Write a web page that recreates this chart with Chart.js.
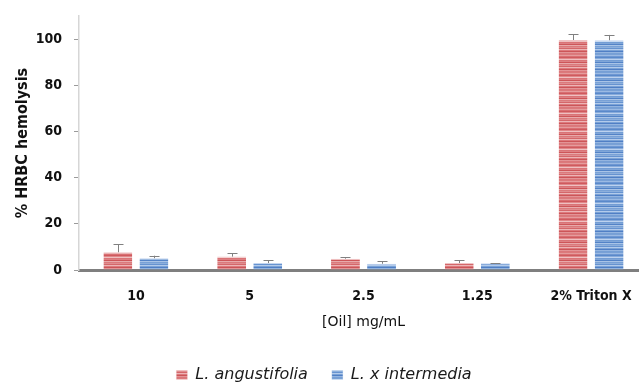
<!DOCTYPE html>
<html>
<head>
<meta charset="utf-8">
<script src="https://cdn.jsdelivr.net/npm/chart.js@4"></script>
<style>
  html, body { margin: 0; padding: 0; background: #fff; overflow: hidden; }
  #wrap { width: 648px; height: 393px; }
</style>
</head>
<body>
<div id="wrap"><canvas id="graf"></canvas></div>
<script>
const kategorier = ["10", "5", "2.5", "1.25", "2% Triton X"];
const angustifolia = [7.7, 5.8, 4.9, 3.0, 99.6];
const angustifoliaFeil = [3.4, 1.4, 0.7, 1.2, 2.6];
const intermedia = [5.1, 3.0, 2.7, 2.9, 99.5];
const intermediaFeil = [1.1, 1.2, 1.0, 0.1, 2.3];
const yTicks = [0, 20, 40, 60, 80, 100];

const fontNavn = "'DejaVu Sans Condensed', 'DejaVu Sans', sans-serif";
const vanligFont = "'DejaVu Sans', sans-serif";

// stripete fyll som i originalen
function lagStriper(farger) {
  const c = document.createElement("canvas");
  c.width = 4;
  c.height = farger.length;
  const ctx = c.getContext("2d");
  farger.forEach((f, i) => {
    ctx.fillStyle = f;
    ctx.fillRect(0, i, 4, 1);
  });
  return ctx.createPattern(c, "repeat");
}

const rødStripe = lagStriper([
  "#dc7a7c", "#e59c9d", "#d96f72", "#cf5a5e", "#e08789", "#efc0c1",
  "#da7477", "#dd8083", "#cd5659", "#e8aaab", "#db7a7c", "#e08c8e",
  "#d4676a", "#ecb5b6", "#dd797c", "#cb5558", "#e39496", "#da777a",
]);
const blåStripe = lagStriper([
  "#79a1d6", "#9bbae3", "#6f98d3", "#5989ca", "#88abdb", "#bcd2ef",
  "#739dd4", "#80a6d8", "#5383c7", "#a9c4e7", "#79a1d6", "#8cafdc",
  "#6693d0", "#b3cbeb", "#7aa2d6", "#507fc5", "#94b5e0", "#769fd5",
]);

const feilstolper = {
  id: "feilstolper",
  afterDatasetsDraw(chart) {
    const ctx = chart.ctx;
    const yAkse = chart.scales.y;
    ctx.save();
    ctx.strokeStyle = "#808080";
    ctx.lineWidth = 1;
    chart.data.datasets.forEach((ds, i) => {
      const meta = chart.getDatasetMeta(i);
      meta.data.forEach((bar, j) => {
        const topp = yAkse.getPixelForValue(ds.data[j] + ds.feil[j]);
        const x = Math.round(bar.x) + 0.5;
        ctx.beginPath();
        ctx.moveTo(x, bar.y);
        ctx.lineTo(x, topp);
        ctx.moveTo(x - 5, Math.round(topp) + 0.5);
        ctx.lineTo(x + 5, Math.round(topp) + 0.5);
        ctx.stroke();
      });
    });
    ctx.restore();
  },
};

new Chart(document.getElementById("graf"), {
  type: "bar",
  data: {
    labels: kategorier,
    datasets: [
      {
        label: "L. angustifolia",
        data: angustifolia,
        feil: angustifoliaFeil,
        backgroundColor: rødStripe,
        borderColor: "#efc3c4",
        borderWidth: { top: 1, left: 0, right: 0, bottom: 0 },
      },
      {
        label: "L. x intermedia",
        data: intermedia,
        feil: intermediaFeil,
        backgroundColor: blåStripe,
        borderColor: "#c3d5ef",
        borderWidth: { top: 1, left: 0, right: 0, bottom: 0 },
      },
    ],
  },
  options: {
    responsive: true,
    maintainAspectRatio: false,
    animation: false,
    layout: { padding: { top: 16, left: 0, right: 0, bottom: 0 } },
    datasets: { bar: { categoryPercentage: 0.634, barPercentage: 0.8 } },
    plugins: {
      tooltip: { enabled: false },
      legend: {
        position: "bottom",
        labels: {
          color: "#1a1a1a",
          boxWidth: 11,
          boxHeight: 9,
          padding: 24,
          font: { family: vanligFont, size: 16, style: "italic" },
        },
      },
    },
    scales: {
      x: {
        grid: { display: false },
        border: { color: "#7f7f7f", width: 3 },
        ticks: {
          color: "#111",
          padding: 10,
          font: { family: fontNavn, size: 14, weight: "bold" },
        },
        title: {
          display: true,
          text: "[Oil] mg/mL",
          color: "#111",
          padding: { top: 6, bottom: 12 },
          font: { family: vanligFont, size: 14 },
        },
        afterFit(akse) {
          akse.height = 73;
          akse.paddingLeft = 0;
          akse.paddingRight = 0;
        },
      },
      y: {
        min: 0,
        max: 110,
        grid: {
          drawOnChartArea: false,
          color: "#9a9a9a",
          tickLength: 5,
        },
        border: { color: "#d6d6d6", width: 1.5 },
        afterBuildTicks(akse) {
          akse.ticks = yTicks.map((v) => ({ value: v }));
        },
        ticks: {
          color: "#111",
          padding: 12,
          font: { family: fontNavn, size: 14, weight: "bold" },
        },
        title: {
          display: true,
          text: "% HRBC hemolysis",
          color: "#111",
          padding: { top: 13, bottom: 0 },
          font: { family: fontNavn, size: 16, weight: "bold" },
        },
        afterFit(akse) {
          akse.width = 79;
          akse.paddingTop = 0;
          akse.paddingBottom = 0;
        },
      },
    },
  },
  plugins: [feilstolper],
});
</script>
</body>
</html>
